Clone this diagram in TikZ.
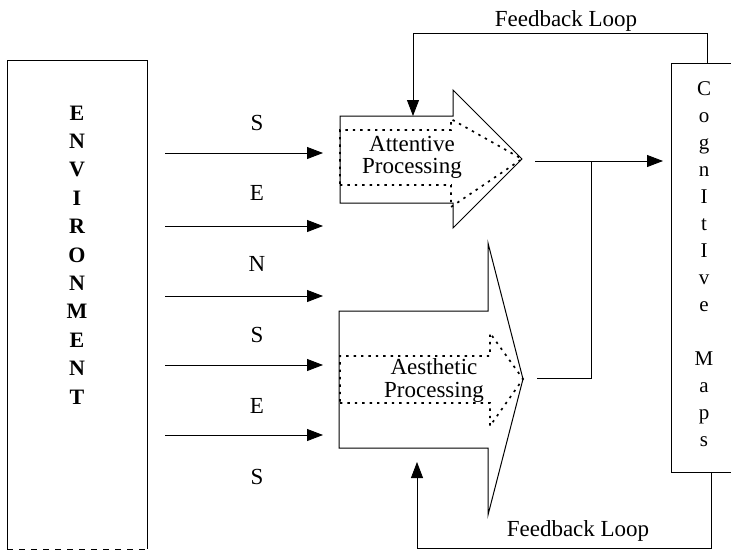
\documentclass[tikz,border=0pt]{standalone}
\usepackage{fontspec}
\setmainfont{Liberation Serif}
\usetikzlibrary{arrows.meta}
\begin{document}
\begin{tikzpicture}[x=1pt,y=-1pt,
  line width=0.8pt,
  tip/.style={-{Triangle[length=16pt,width=12pt]}},
  outline/.style={line width=1pt},
  dotline/.style={line width=1.7pt, dash pattern=on 2.4pt off 5pt},
  lbl/.style={font=\fontsize{23}{23}\selectfont, inner sep=0pt, anchor=base},
  letter/.style={font=\fontsize{21}{21}\selectfont, inner sep=0pt, anchor=base},
  envletter/.style={letter, font=\fontsize{22}{22}\selectfont\bfseries}]
\useasboundingbox (0,0) rectangle (731,554);

% Environment column
\draw[outline] (7,549) -- (7,60) -- (147,60) -- (147,549);
\draw[outline, dash pattern=on 6pt off 6pt] (7,549) -- (147,549);
\foreach \ch [count=\i from 0] in {E,N,V,I,R,O,N,M,E,N,T}
  \node[envletter] (env\i) at (77,{120+28.4*\i}) {\ch};

% Sense arrows and their letters
\foreach \y [count=\i] in {153,226,296,365,435} {
  \coordinate (sa\i) at (165,\y);
  \coordinate (sb\i) at (323,\y);
  \draw[tip] (sa\i) -- (sb\i);
}
\foreach \ch [count=\i from 0] in {S,E,N,S,E,S}
  \node[lbl] (sense\i) at (257,{130+70.8*\i}) {\ch};

% Attentive processing arrow
\coordinate (atip) at (522,159);
\draw[outline] (340,116) -- (453,116) -- (453,90) -- (atip) -- (453,228)
  -- (453,203) -- (340,203) -- cycle;
\draw[dotline] (340,185) -- (451,185) -- (451,207) -- (atip) -- (451,119)
  -- (451,130) -- (340,130) -- cycle;
\node[lbl] (att1) at (412,151) {Attentive};
\node[lbl] (att2) at (412,173) {Processing};

% Aesthetic processing arrow
\coordinate (etip) at (523,379);
\draw[outline] (339,311) -- (488,311) -- (488,243) -- (etip) -- (488,515)
  -- (488,448) -- (339,448) -- cycle;
\draw[dotline] (340,403) -- (490,403) -- (490,426) -- (etip) -- (490,333)
  -- (490,356) -- (340,356) -- cycle;
\node[lbl] (aes1) at (434,374) {Aesthetic};
\node[lbl] (aes2) at (434,397) {Processing};

% Cognitive maps column
\draw[outline] (731,63) -- (671,63) -- (671,472) -- (731,472);
\foreach \ch [count=\i from 0] in {C,o,g,n,I,t,I,v,e,{},M,a,p,s}
  \node[letter] (cog\i) at (704,{95+27*\i}) {\ch};

% Outputs into the cognitive maps
\coordinate (aout) at (535,161);
\coordinate (cogin) at (663,161);
\coordinate (join) at (591,161);
\coordinate (eout) at (537,378);
\draw[tip] (aout) -- (cogin);
\draw (eout) -- (591,378) -- (join);

% Feedback loops
\coordinate (fbtop) at (707,63);
\coordinate (fbatt) at (413,116);
\draw[tip] (fbtop) -- (707,33) -- (413,33) -- (fbatt);
\node[lbl] (fb1) at (566,26) {Feedback Loop};

\coordinate (fbbot) at (711,472);
\coordinate (fbaes) at (417,462);
\draw[tip] (fbbot) -- (711,548) -- (417,548) -- (fbaes);
\node[lbl] (fb2) at (578,536) {Feedback Loop};
\end{tikzpicture}
\end{document}
